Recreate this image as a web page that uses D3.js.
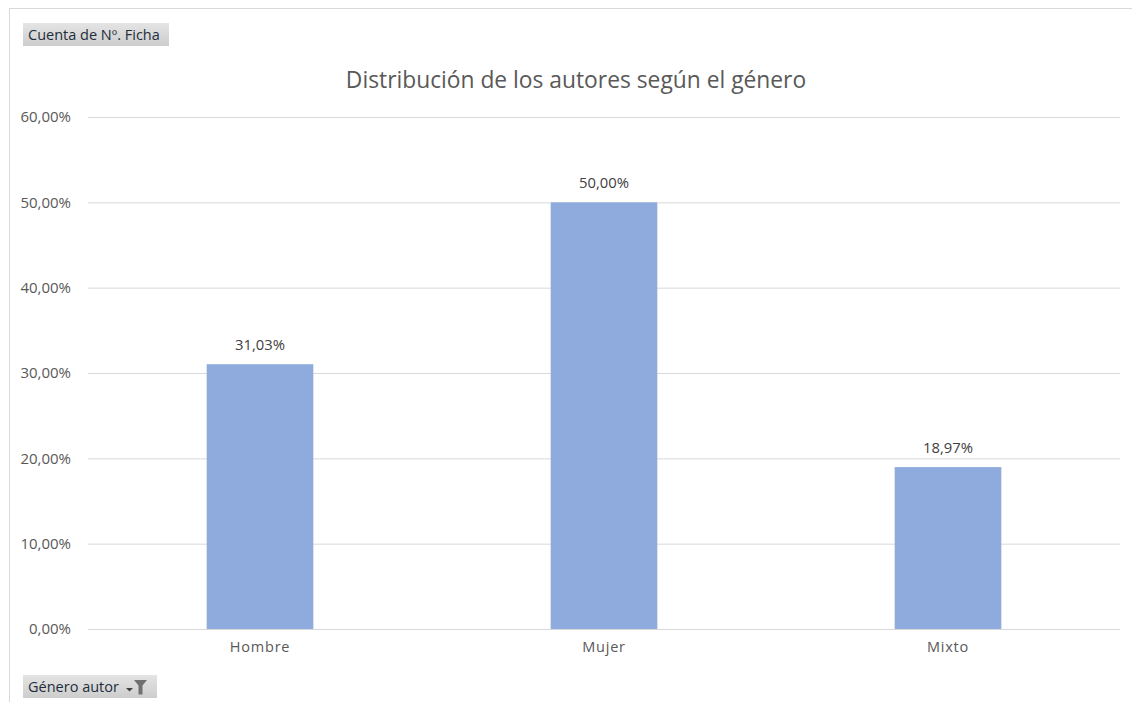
<!DOCTYPE html>
<html>
<head>
<meta charset="utf-8">
<script src="https://cdn.jsdelivr.net/npm/d3@7"></script>
<style>
  html, body { margin: 0; padding: 0; background: #fff; }
  svg { display: block; font-family: "Open Sans", "Noto Sans", sans-serif; }
</style>
</head>
<body>
<svg id="chart" width="1132" height="702"></svg>
<script>
// Share of authors by gender (percent of records)
const categories = ["Hombre", "Mujer", "Mixto"];
const values = [31.03, 50.00, 18.97];
const yTicks = [0, 10, 20, 30, 40, 50, 60];

const title = "Distribución de los autores según el género";
const fieldButton = "Cuenta de Nº. Ficha";
const axisButton = "Género autor";

const fmt = v => d3.format(".2f")(v).replace(".", ",") + "%";

const svg = d3.select("#chart");
const W = 1132, H = 702;
const margin = { left: 88, right: 12, top: 117, bottom: 73 };

// Chart area frame
svg.append("rect")
  .attr("x", 9.5).attr("y", 8.5)
  .attr("width", W + 20).attr("height", H + 20)
  .attr("fill", "#fff").attr("stroke", "#d9d9d9").attr("stroke-width", 1);

const x = d3.scaleBand()
  .domain(categories)
  .range([margin.left, W - margin.right])
  .paddingInner(0.69).paddingOuter(0.345);

const y = d3.scaleLinear()
  .domain([0, 60])
  .range([H - margin.bottom, margin.top]);

// Gridlines via axis
const grid = svg.append("g")
  .attr("transform", `translate(${margin.left},0)`)
  .call(d3.axisLeft(y).tickValues(yTicks).tickSize(-(W - margin.right - margin.left)).tickFormat(""));
grid.select(".domain").remove();
grid.selectAll("line").attr("stroke", "#d9d9d9").attr("stroke-width", 1);

// Y tick labels
const yAxis = svg.append("g")
  .attr("transform", `translate(71,0)`)
  .call(d3.axisLeft(y).tickValues(yTicks).tickSize(0).tickPadding(0).tickFormat(fmt));
yAxis.select(".domain").remove();
yAxis.selectAll("text")
  .attr("fill", "#595959")
  .style("font-size", "15px")
  .style("font-family", "'Open Sans', sans-serif");

// Bars
svg.append("g").selectAll("rect")
  .data(categories)
  .join("rect")
  .attr("x", d => x(d))
  .attr("width", x.bandwidth())
  .attr("y", (d, i) => y(values[i]))
  .attr("height", (d, i) => y(0) - y(values[i]))
  .attr("fill", "#8faadc");

// Redraw baseline over bars
svg.append("line")
  .attr("x1", margin.left).attr("x2", W - margin.right)
  .attr("y1", y(0) + 0.5).attr("y2", y(0) + 0.5)
  .attr("stroke", "#d9d9d9");

// Data labels
svg.append("g").selectAll("text")
  .data(categories)
  .join("text")
  .attr("x", d => x(d) + x.bandwidth() / 2)
  .attr("y", (d, i) => y(values[i]) - 14)
  .attr("text-anchor", "middle")
  .attr("fill", "#404040")
  .style("font-size", "14.8px")
  .text((d, i) => fmt(values[i]));

// X axis labels
const xAxis = svg.append("g")
  .attr("transform", `translate(0,${y(0)})`)
  .call(d3.axisBottom(x).tickSize(0).tickPadding(13));
xAxis.select(".domain").remove();
xAxis.selectAll("text")
  .attr("fill", "#595959")
  .style("font-size", "14.5px")
  .style("letter-spacing", "0.8px")
  .style("font-family", "'Open Sans', sans-serif");

// Title
svg.append("text")
  .attr("x", 576).attr("y", 88)
  .attr("text-anchor", "middle")
  .attr("fill", "#595959")
  .style("font-size", "22.8px")
  .text(title);

// Pivot field buttons
const grad = svg.append("defs").append("linearGradient")
  .attr("id", "btn").attr("x1", 0).attr("y1", 0).attr("x2", 0).attr("y2", 1);
grad.append("stop").attr("offset", "0%").attr("stop-color", "#e4e4e4");
grad.append("stop").attr("offset", "100%").attr("stop-color", "#cdcdcd");

function button(x0, y0, w, label, filter) {
  const g = svg.append("g");
  g.append("rect").attr("x", x0).attr("y", y0).attr("width", w).attr("height", 23)
    .attr("fill", "url(#btn)");
  g.append("text").attr("x", x0 + 5).attr("y", y0 + 16.5)
    .attr("fill", "#1f2d3d").style("font-size", "14.5px")
    .text(label);
  if (filter) {
    const fx = x0 + w - 18;
    g.append("path").attr("d", `M${fx - 13},${y0 + 13} h7 l-3.5,3.5 z`).attr("fill", "#404040");
    g.append("path").attr("d", `M${fx - 5},${y0 + 5} h13 l-4.5,5.5 v9 h-4 v-9 z`).attr("fill", "#707070");
  }
}
button(23, 23, 146, fieldButton, false);
button(23, 675, 134, axisButton, true);
</script>
</body>
</html>
